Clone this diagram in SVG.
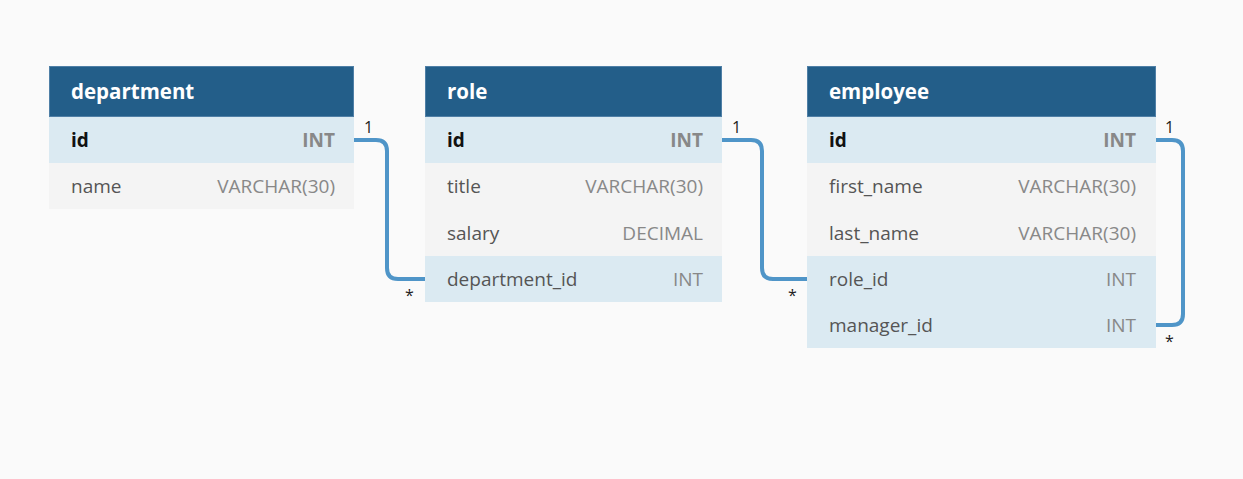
<svg xmlns="http://www.w3.org/2000/svg" width="1243" height="479" viewBox="0 0 1243 479">
<style>
.hdr{fill:#235e89;stroke:#4f7fa6;stroke-width:1}
.key{fill:#dbeaf2}
.row{fill:#f4f4f4}
.ht{font-family:"Open Sans","DejaVu Sans",sans-serif;font-size:20.5px;font-weight:700;fill:#ffffff}
.fn{font-family:"Open Sans","DejaVu Sans",sans-serif;font-size:19px;fill:#555555}
.fk{font-family:"Open Sans","DejaVu Sans",sans-serif;font-size:19px;font-weight:700;fill:#111111}
.tn{font-family:"Open Sans","DejaVu Sans",sans-serif;font-size:19px;fill:#888888;text-anchor:end}
.tk{font-family:"Open Sans","DejaVu Sans",sans-serif;font-size:19px;font-weight:700;fill:#888888;text-anchor:end}
.lnk{fill:none;stroke:#4f95c8;stroke-width:4}
.lbl{font-family:"Open Sans","DejaVu Sans",sans-serif;font-size:16px;fill:#222222}
</style>
<rect width="1243" height="479" fill="#fafafa"/>
<g id="connectors">
<path class="lnk" d="M354 140 H376 Q387 140 387 151 V268 Q387 279 398 279 H425"/>
<path class="lnk" d="M722 140 H751 Q762 140 762 151 V268 Q762 279 773 279 H807"/>
<path class="lnk" d="M1156 140 H1172 Q1183 140 1183 151 V314 Q1183 325 1172 325 H1156"/>
<text class="lbl" x="364" y="133">1</text>
<text class="lbl" x="405" y="301">*</text>
<text class="lbl" x="732" y="133">1</text>
<text class="lbl" x="788" y="301">*</text>
<text class="lbl" x="1165" y="133">1</text>
<text class="lbl" x="1165" y="347">*</text>
</g>
<g id="department">
<rect class="hdr" x="49.5" y="66.5" width="304" height="50"/>
<text class="ht" x="71" y="99">department</text>
<rect class="key" x="49" y="117" width="305" height="46"/>
<text class="fk" x="71" y="147">id</text>
<text class="tk" x="335" y="147">INT</text>
<rect class="row" x="49" y="163" width="305" height="46"/>
<text class="fn" x="71" y="193">name</text>
<text class="tn" x="335" y="193">VARCHAR(30)</text>
</g>
<g id="role">
<rect class="hdr" x="425.5" y="66.5" width="296" height="50"/>
<text class="ht" x="447" y="99">role</text>
<rect class="key" x="425" y="117" width="297" height="46"/>
<text class="fk" x="447" y="147">id</text>
<text class="tk" x="703" y="147">INT</text>
<rect class="row" x="425" y="163" width="297" height="93"/>
<text class="fn" x="447" y="193">title</text>
<text class="tn" x="703" y="193">VARCHAR(30)</text>
<text class="fn" x="447" y="239.5">salary</text>
<text class="tn" x="703" y="239.5">DECIMAL</text>
<rect class="key" x="425" y="256" width="297" height="46"/>
<text class="fn" x="447" y="286">department_id</text>
<text class="tn" x="703" y="286">INT</text>
</g>
<g id="employee">
<rect class="hdr" x="807.5" y="66.5" width="348" height="50"/>
<text class="ht" x="829" y="99">employee</text>
<rect class="key" x="807" y="117" width="349" height="46"/>
<text class="fk" x="829" y="147">id</text>
<text class="tk" x="1136" y="147">INT</text>
<rect class="row" x="807" y="163" width="349" height="93"/>
<text class="fn" x="829" y="193">first_name</text>
<text class="tn" x="1136" y="193">VARCHAR(30)</text>
<text class="fn" x="829" y="239.5">last_name</text>
<text class="tn" x="1136" y="239.5">VARCHAR(30)</text>
<rect class="key" x="807" y="256" width="349" height="92"/>
<text class="fn" x="829" y="286">role_id</text>
<text class="tn" x="1136" y="286">INT</text>
<text class="fn" x="829" y="332">manager_id</text>
<text class="tn" x="1136" y="332">INT</text>
</g>
</svg>
